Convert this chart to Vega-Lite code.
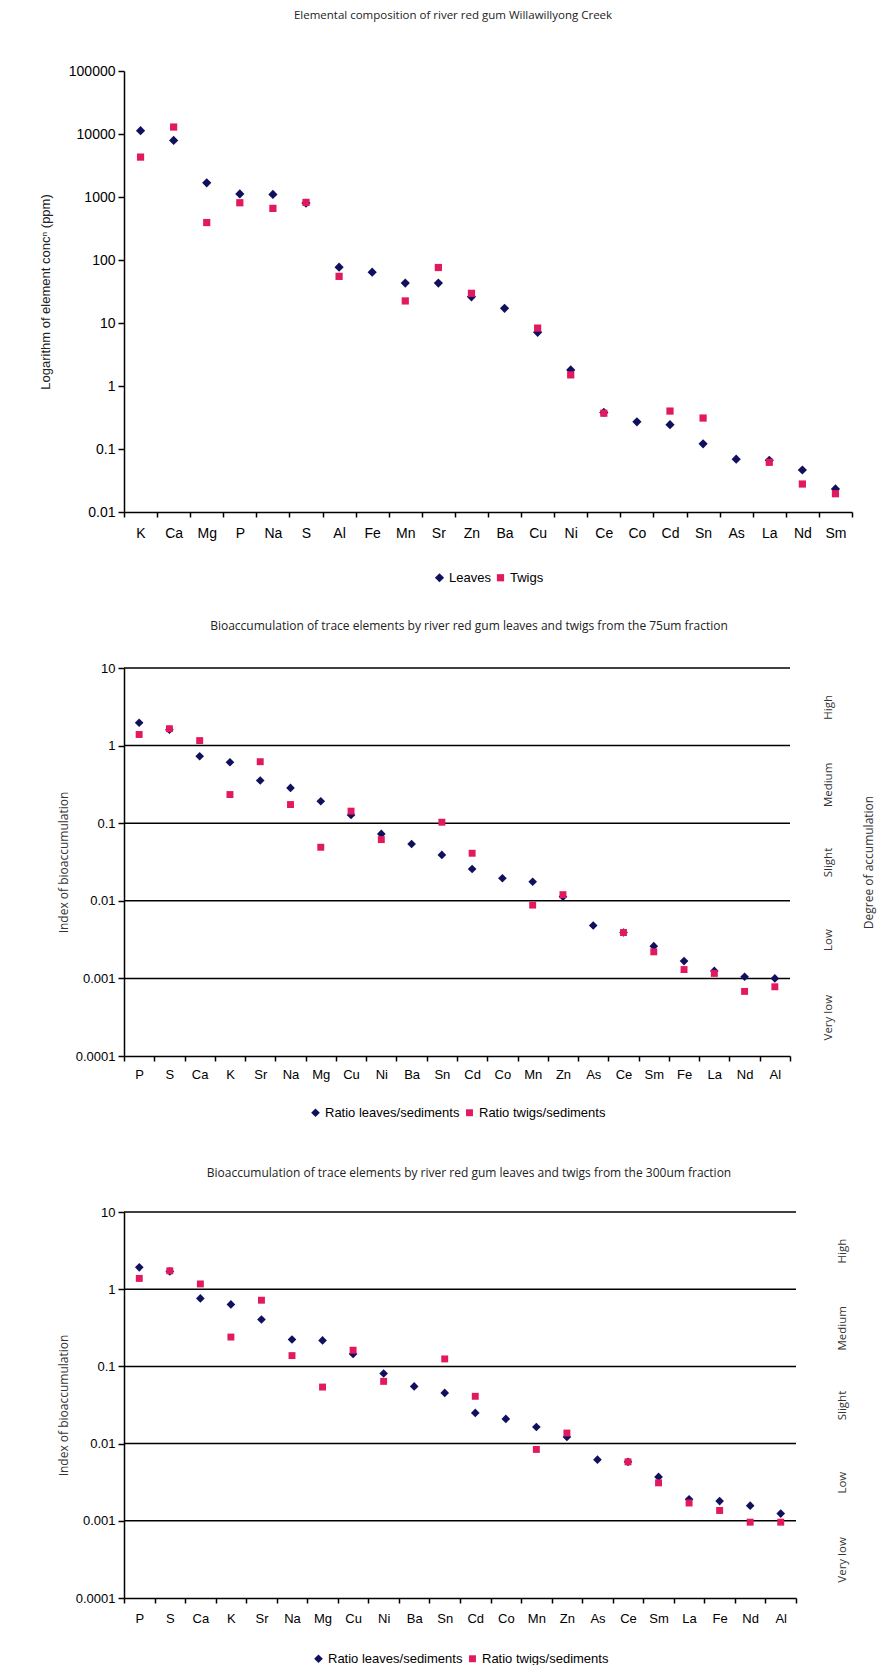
{
  "$schema": "https://vega.github.io/schema/vega-lite/v6.json",
  "background": "white",
  "padding": {"left": 39, "top": 9, "right": 4, "bottom": 2},
  "bounds": "flush",
  "spacing": 156,
  "config": {
    "view": {"stroke": null},
    "font": "Liberation Sans",
    "axis": {
      "domainColor": "#000", "domainWidth": 1.5,
      "tickColor": "#000", "tickWidth": 1.5, "tickSize": 6,
      "labelColor": "#000", "labelFont": "Liberation Sans", "labelFontSize": 13,
      "titleColor": "#000", "titleFontWeight": "normal", "grid": false
    },
    "legend": {
      "orient": "bottom", "direction": "horizontal", "title": null,
      "labelFont": "Liberation Sans", "labelFontSize": 13, "labelColor": "#000",
      "symbolSize": 50, "columnPadding": 3, "labelOffset": 3,
      "layout": {"bottom": {"anchor": "middle"}}
    },
    "title": {"font": "Open Sans", "fontSize": 12, "fontWeight": "normal", "color": "#222", "anchor": "middle", "frame": "group"}
  },
  "datasets": {
    "composition": [
      {"element": "K", "part": "Leaves", "ppm": 11300},
      {"element": "Ca", "part": "Leaves", "ppm": 7900},
      {"element": "Mg", "part": "Leaves", "ppm": 1680},
      {"element": "P", "part": "Leaves", "ppm": 1120},
      {"element": "Na", "part": "Leaves", "ppm": 1100},
      {"element": "S", "part": "Leaves", "ppm": 800},
      {"element": "Al", "part": "Leaves", "ppm": 77},
      {"element": "Fe", "part": "Leaves", "ppm": 64},
      {"element": "Mn", "part": "Leaves", "ppm": 43},
      {"element": "Sr", "part": "Leaves", "ppm": 43},
      {"element": "Zn", "part": "Leaves", "ppm": 26},
      {"element": "Ba", "part": "Leaves", "ppm": 17.1},
      {"element": "Cu", "part": "Leaves", "ppm": 7.1},
      {"element": "Ni", "part": "Leaves", "ppm": 1.8},
      {"element": "Ce", "part": "Leaves", "ppm": 0.38},
      {"element": "Co", "part": "Leaves", "ppm": 0.27},
      {"element": "Cd", "part": "Leaves", "ppm": 0.243},
      {"element": "Sn", "part": "Leaves", "ppm": 0.121},
      {"element": "As", "part": "Leaves", "ppm": 0.069},
      {"element": "La", "part": "Leaves", "ppm": 0.066},
      {"element": "Nd", "part": "Leaves", "ppm": 0.0464},
      {"element": "Sm", "part": "Leaves", "ppm": 0.0232},
      {"element": "K", "part": "Twigs", "ppm": 4300},
      {"element": "Ca", "part": "Twigs", "ppm": 12900},
      {"element": "Mg", "part": "Twigs", "ppm": 393},
      {"element": "P", "part": "Twigs", "ppm": 810},
      {"element": "Na", "part": "Twigs", "ppm": 660},
      {"element": "S", "part": "Twigs", "ppm": 820},
      {"element": "Al", "part": "Twigs", "ppm": 55},
      {"element": "Mn", "part": "Twigs", "ppm": 22.4},
      {"element": "Sr", "part": "Twigs", "ppm": 76},
      {"element": "Zn", "part": "Twigs", "ppm": 29.6},
      {"element": "Cu", "part": "Twigs", "ppm": 8.3},
      {"element": "Ni", "part": "Twigs", "ppm": 1.5},
      {"element": "Ce", "part": "Twigs", "ppm": 0.37},
      {"element": "Cd", "part": "Twigs", "ppm": 0.4},
      {"element": "Sn", "part": "Twigs", "ppm": 0.31},
      {"element": "La", "part": "Twigs", "ppm": 0.0615},
      {"element": "Nd", "part": "Twigs", "ppm": 0.0278},
      {"element": "Sm", "part": "Twigs", "ppm": 0.0195}
    ],
    "fine": [
      {"element": "P", "ratio": "Ratio leaves/sediments", "index": 1.97},
      {"element": "S", "ratio": "Ratio leaves/sediments", "index": 1.6},
      {"element": "Ca", "ratio": "Ratio leaves/sediments", "index": 0.73},
      {"element": "K", "ratio": "Ratio leaves/sediments", "index": 0.61},
      {"element": "Sr", "ratio": "Ratio leaves/sediments", "index": 0.355},
      {"element": "Na", "ratio": "Ratio leaves/sediments", "index": 0.285},
      {"element": "Mg", "ratio": "Ratio leaves/sediments", "index": 0.192},
      {"element": "Cu", "ratio": "Ratio leaves/sediments", "index": 0.128},
      {"element": "Ni", "ratio": "Ratio leaves/sediments", "index": 0.0728},
      {"element": "Ba", "ratio": "Ratio leaves/sediments", "index": 0.054},
      {"element": "Sn", "ratio": "Ratio leaves/sediments", "index": 0.039},
      {"element": "Cd", "ratio": "Ratio leaves/sediments", "index": 0.0257},
      {"element": "Co", "ratio": "Ratio leaves/sediments", "index": 0.0195},
      {"element": "Mn", "ratio": "Ratio leaves/sediments", "index": 0.0176},
      {"element": "Zn", "ratio": "Ratio leaves/sediments", "index": 0.0113},
      {"element": "As", "ratio": "Ratio leaves/sediments", "index": 0.0048},
      {"element": "Ce", "ratio": "Ratio leaves/sediments", "index": 0.0039},
      {"element": "Sm", "ratio": "Ratio leaves/sediments", "index": 0.0026},
      {"element": "Fe", "ratio": "Ratio leaves/sediments", "index": 0.00167},
      {"element": "La", "ratio": "Ratio leaves/sediments", "index": 0.00125},
      {"element": "Nd", "ratio": "Ratio leaves/sediments", "index": 0.00105},
      {"element": "Al", "ratio": "Ratio leaves/sediments", "index": 0.001},
      {"element": "P", "ratio": "Ratio twigs/sediments", "index": 1.39},
      {"element": "S", "ratio": "Ratio twigs/sediments", "index": 1.65},
      {"element": "Ca", "ratio": "Ratio twigs/sediments", "index": 1.16},
      {"element": "K", "ratio": "Ratio twigs/sediments", "index": 0.234},
      {"element": "Sr", "ratio": "Ratio twigs/sediments", "index": 0.62},
      {"element": "Na", "ratio": "Ratio twigs/sediments", "index": 0.174},
      {"element": "Mg", "ratio": "Ratio twigs/sediments", "index": 0.049},
      {"element": "Cu", "ratio": "Ratio twigs/sediments", "index": 0.143},
      {"element": "Ni", "ratio": "Ratio twigs/sediments", "index": 0.0615},
      {"element": "Sn", "ratio": "Ratio twigs/sediments", "index": 0.103},
      {"element": "Cd", "ratio": "Ratio twigs/sediments", "index": 0.041},
      {"element": "Mn", "ratio": "Ratio twigs/sediments", "index": 0.0088},
      {"element": "Zn", "ratio": "Ratio twigs/sediments", "index": 0.012},
      {"element": "Ce", "ratio": "Ratio twigs/sediments", "index": 0.0039},
      {"element": "Sm", "ratio": "Ratio twigs/sediments", "index": 0.0022},
      {"element": "Fe", "ratio": "Ratio twigs/sediments", "index": 0.0013},
      {"element": "La", "ratio": "Ratio twigs/sediments", "index": 0.00116},
      {"element": "Nd", "ratio": "Ratio twigs/sediments", "index": 0.00068},
      {"element": "Al", "ratio": "Ratio twigs/sediments", "index": 0.00078}
    ],
    "coarse": [
      {"element": "P", "ratio": "Ratio leaves/sediments", "index": 1.92},
      {"element": "S", "ratio": "Ratio leaves/sediments", "index": 1.7},
      {"element": "Ca", "ratio": "Ratio leaves/sediments", "index": 0.76},
      {"element": "K", "ratio": "Ratio leaves/sediments", "index": 0.635},
      {"element": "Sr", "ratio": "Ratio leaves/sediments", "index": 0.405},
      {"element": "Na", "ratio": "Ratio leaves/sediments", "index": 0.223},
      {"element": "Mg", "ratio": "Ratio leaves/sediments", "index": 0.217},
      {"element": "Cu", "ratio": "Ratio leaves/sediments", "index": 0.145},
      {"element": "Ni", "ratio": "Ratio leaves/sediments", "index": 0.081},
      {"element": "Ba", "ratio": "Ratio leaves/sediments", "index": 0.055},
      {"element": "Sn", "ratio": "Ratio leaves/sediments", "index": 0.0454},
      {"element": "Cd", "ratio": "Ratio leaves/sediments", "index": 0.025},
      {"element": "Co", "ratio": "Ratio leaves/sediments", "index": 0.0209},
      {"element": "Mn", "ratio": "Ratio leaves/sediments", "index": 0.0164},
      {"element": "Zn", "ratio": "Ratio leaves/sediments", "index": 0.0122},
      {"element": "As", "ratio": "Ratio leaves/sediments", "index": 0.0062},
      {"element": "Ce", "ratio": "Ratio leaves/sediments", "index": 0.0058},
      {"element": "Sm", "ratio": "Ratio leaves/sediments", "index": 0.0037},
      {"element": "La", "ratio": "Ratio leaves/sediments", "index": 0.0019},
      {"element": "Fe", "ratio": "Ratio leaves/sediments", "index": 0.0018},
      {"element": "Nd", "ratio": "Ratio leaves/sediments", "index": 0.00157},
      {"element": "Al", "ratio": "Ratio leaves/sediments", "index": 0.00124},
      {"element": "P", "ratio": "Ratio twigs/sediments", "index": 1.38},
      {"element": "S", "ratio": "Ratio twigs/sediments", "index": 1.73},
      {"element": "Ca", "ratio": "Ratio twigs/sediments", "index": 1.17},
      {"element": "K", "ratio": "Ratio twigs/sediments", "index": 0.24},
      {"element": "Sr", "ratio": "Ratio twigs/sediments", "index": 0.72},
      {"element": "Na", "ratio": "Ratio twigs/sediments", "index": 0.138},
      {"element": "Mg", "ratio": "Ratio twigs/sediments", "index": 0.054},
      {"element": "Cu", "ratio": "Ratio twigs/sediments", "index": 0.162},
      {"element": "Ni", "ratio": "Ratio twigs/sediments", "index": 0.064},
      {"element": "Sn", "ratio": "Ratio twigs/sediments", "index": 0.125},
      {"element": "Cd", "ratio": "Ratio twigs/sediments", "index": 0.041},
      {"element": "Mn", "ratio": "Ratio twigs/sediments", "index": 0.0084},
      {"element": "Zn", "ratio": "Ratio twigs/sediments", "index": 0.0137},
      {"element": "Ce", "ratio": "Ratio twigs/sediments", "index": 0.0058},
      {"element": "Sm", "ratio": "Ratio twigs/sediments", "index": 0.0031},
      {"element": "La", "ratio": "Ratio twigs/sediments", "index": 0.0017},
      {"element": "Fe", "ratio": "Ratio twigs/sediments", "index": 0.00136},
      {"element": "Nd", "ratio": "Ratio twigs/sediments", "index": 0.00096},
      {"element": "Al", "ratio": "Ratio twigs/sediments", "index": 0.00096}
    ],
    "levels": [
      {"index": 10}, {"index": 1}, {"index": 0.1}, {"index": 0.01}, {"index": 0.001}
    ]
  },
  "vconcat": [
    {
      "data": {"name": "composition"},
      "width": 728,
      "height": 441,
      "title": {"text": "Elemental composition of river red gum Willawillyong Creek", "fontSize": 11.5, "offset": 43, "dx": -35},
      "mark": {"type": "point", "filled": true, "opacity": 1},
      "encoding": {
        "x": {
          "field": "element", "type": "nominal",
          "sort": ["K", "Ca", "Mg", "P", "Na", "S", "Al", "Fe", "Mn", "Sr", "Zn", "Ba", "Cu", "Ni", "Ce", "Co", "Cd", "Sn", "As", "La", "Nd", "Sm"],
          "scale": {"type": "band", "paddingInner": 0, "paddingOuter": 0},
          "axis": {"title": null, "labelAngle": 0, "tickBand": "extent", "tickSize": 5, "labelPadding": 9, "labelFontSize": 14}
        },
        "y": {
          "field": "ppm", "type": "quantitative",
          "scale": {"type": "log", "domain": [0.01, 100000], "nice": false},
          "axis": {
            "values": [0.01, 0.1, 1, 10, 100, 1000, 10000, 100000], "format": "~g",
            "labelFontSize": 14, "labelPadding": 3,
            "title": "Logarithm of element concⁿ (ppm)", "titleFont": "Liberation Sans", "titleFontSize": 13,
            "titleFontWeight": "normal", "titleColor": "#222", "titlePadding": 16
          }
        },
        "color": {"field": "part", "type": "nominal", "scale": {"domain": ["Leaves", "Twigs"], "range": ["#10105e", "#e2195f"]}, "legend": {"offset": 31}},
        "shape": {"field": "part", "type": "nominal", "scale": {"domain": ["Leaves", "Twigs"], "range": ["diamond", "square"]}, "legend": {"offset": 31}},
        "size": {"field": "part", "type": "nominal", "scale": {"domain": ["Leaves", "Twigs"], "range": [85, 52]}, "legend": null}
      }
    },
    {
      "width": 666,
      "height": 388,
      "title": {"text": "Bioaccumulation of trace elements by river red gum leaves and twigs from the 75um fraction", "offset": 29, "dx": 12},
      "layer": [
        {
          "data": {"name": "levels"},
          "mark": {"type": "rule", "color": "#000", "strokeWidth": 1.5},
          "encoding": {
            "y": {
              "field": "index", "type": "quantitative",
              "scale": {"type": "log", "domain": [0.0001, 10], "nice": false},
              "axis": {
                "orient": "right", "values": [3.1623, 0.31623, 0.031623, 0.0031623, 0.00031623],
                "labelExpr": "datum.value > 1 ? 'High' : datum.value > 0.1 ? 'Medium' : datum.value > 0.01 ? 'Slight' : datum.value > 0.001 ? 'Low' : 'Very low'",
                "ticks": false, "tickSize": 0, "domain": false, "labelOverlap": false,
                "labelAngle": -90, "labelAlign": "center", "labelBaseline": "top", "labelPadding": 32,
                "labelFont": "Open Sans", "labelFontSize": 11.5, "labelColor": "#333",
                "title": "Degree of accumulation", "titleFont": "Open Sans", "titleFontSize": 12, "titleColor": "#333",
                "titleFontWeight": "normal", "titleAngle": -90, "titleBaseline": "top", "titlePadding": 30
              }
            }
          }
        },
        {
          "data": {"name": "fine"},
          "mark": {"type": "point", "filled": true, "opacity": 1},
          "encoding": {
            "x": {
              "field": "element", "type": "nominal",
              "sort": ["P", "S", "Ca", "K", "Sr", "Na", "Mg", "Cu", "Ni", "Ba", "Sn", "Cd", "Co", "Mn", "Zn", "As", "Ce", "Sm", "Fe", "La", "Nd", "Al"],
              "scale": {"type": "band", "paddingInner": 0, "paddingOuter": 0},
              "axis": {"title": null, "labelAngle": 0, "tickBand": "extent", "tickSize": 5, "labelPadding": 7}
            },
            "y": {
              "field": "index", "type": "quantitative",
              "axis": {
                "orient": "left", "values": [0.0001, 0.001, 0.01, 0.1, 1, 10], "format": "~g", "labelPadding": 3,
                "title": "Index of bioaccumulation", "titleFont": "Open Sans", "titleFontSize": 12, "titleColor": "#333",
                "titleFontWeight": "normal", "titlePadding": 5
              }
            },
            "color": {"field": "ratio", "type": "nominal", "scale": {"domain": ["Ratio leaves/sediments", "Ratio twigs/sediments"], "range": ["#10105e", "#e2195f"]}, "legend": {"offset": 25}},
            "shape": {"field": "ratio", "type": "nominal", "scale": {"domain": ["Ratio leaves/sediments", "Ratio twigs/sediments"], "range": ["diamond", "square"]}, "legend": {"offset": 25}},
            "size": {"field": "ratio", "type": "nominal", "scale": {"domain": ["Ratio leaves/sediments", "Ratio twigs/sediments"], "range": [75, 48]}, "legend": null}
          }
        }
      ],
      "resolve": {"axis": {"y": "independent"}}
    },
    {
      "width": 672,
      "height": 386,
      "title": {"text": "Bioaccumulation of trace elements by river red gum leaves and twigs from the 300um fraction", "offset": 26, "dx": 9},
      "layer": [
        {
          "data": {"name": "levels"},
          "mark": {"type": "rule", "color": "#000", "strokeWidth": 1.5},
          "encoding": {
            "y": {
              "field": "index", "type": "quantitative",
              "scale": {"type": "log", "domain": [0.0001, 10], "nice": false},
              "axis": {
                "orient": "right", "values": [3.1623, 0.31623, 0.031623, 0.0031623, 0.00031623],
                "labelExpr": "datum.value > 1 ? 'High' : datum.value > 0.1 ? 'Medium' : datum.value > 0.01 ? 'Slight' : datum.value > 0.001 ? 'Low' : 'Very low'",
                "ticks": false, "tickSize": 0, "domain": false, "labelOverlap": false,
                "labelAngle": -90, "labelAlign": "center", "labelBaseline": "top", "labelPadding": 40,
                "labelFont": "Open Sans", "labelFontSize": 11.5, "labelColor": "#333",
                "title": null
              }
            }
          }
        },
        {
          "data": {"name": "coarse"},
          "mark": {"type": "point", "filled": true, "opacity": 1},
          "encoding": {
            "x": {
              "field": "element", "type": "nominal",
              "sort": ["P", "S", "Ca", "K", "Sr", "Na", "Mg", "Cu", "Ni", "Ba", "Sn", "Cd", "Co", "Mn", "Zn", "As", "Ce", "Sm", "La", "Fe", "Nd", "Al"],
              "scale": {"type": "band", "paddingInner": 0, "paddingOuter": 0},
              "axis": {"title": null, "labelAngle": 0, "tickBand": "extent", "tickSize": 5, "labelPadding": 9}
            },
            "y": {
              "field": "index", "type": "quantitative",
              "axis": {
                "orient": "left", "values": [0.0001, 0.001, 0.01, 0.1, 1, 10], "format": "~g", "labelPadding": 3,
                "title": "Index of bioaccumulation", "titleFont": "Open Sans", "titleFontSize": 12, "titleColor": "#333",
                "titleFontWeight": "normal", "titlePadding": 5
              }
            },
            "color": {"field": "ratio", "type": "nominal", "scale": {"domain": ["Ratio leaves/sediments", "Ratio twigs/sediments"], "range": ["#10105e", "#e2195f"]}, "legend": {"offset": 27}},
            "shape": {"field": "ratio", "type": "nominal", "scale": {"domain": ["Ratio leaves/sediments", "Ratio twigs/sediments"], "range": ["diamond", "square"]}, "legend": {"offset": 27}},
            "size": {"field": "ratio", "type": "nominal", "scale": {"domain": ["Ratio leaves/sediments", "Ratio twigs/sediments"], "range": [75, 48]}, "legend": null}
          }
        }
      ],
      "resolve": {"axis": {"y": "independent"}}
    }
  ],
  "resolve": {
    "scale": {"x": "independent", "y": "independent", "color": "independent", "shape": "independent", "size": "independent"},
    "legend": {"color": "independent", "shape": "independent"}
  }
}
